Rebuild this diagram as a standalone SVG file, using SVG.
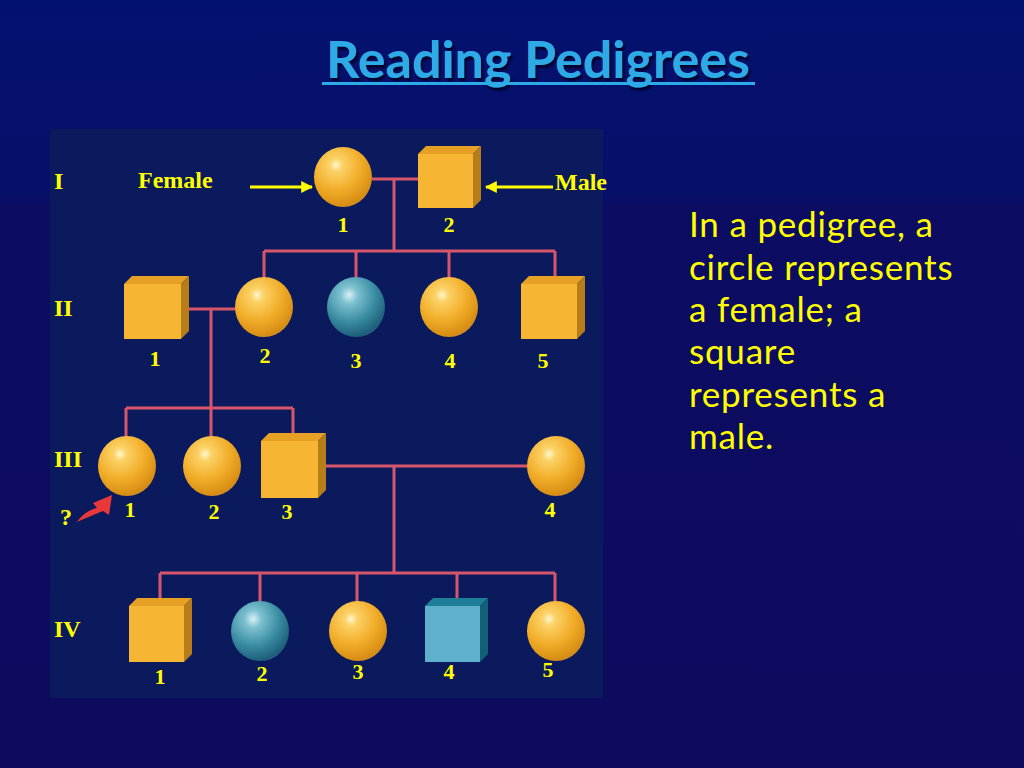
<svg xmlns="http://www.w3.org/2000/svg" width="1024" height="768" viewBox="0 0 1024 768">
<defs>
  <linearGradient id="bg" x1="0" y1="0" x2="0" y2="1">
    <stop offset="0" stop-color="#03116e"/>
    <stop offset="0.25" stop-color="#06106a"/>
    <stop offset="0.27" stop-color="#0c0c62"/>
    <stop offset="1" stop-color="#0c0b5e"/>
  </linearGradient>
  <radialGradient id="gold" cx="0.38" cy="0.3" r="0.75">
    <stop offset="0" stop-color="#fff7cf"/>
    <stop offset="0.15" stop-color="#fbd267"/>
    <stop offset="0.55" stop-color="#f2ae2a"/>
    <stop offset="0.9" stop-color="#d98f14"/>
    <stop offset="1" stop-color="#c98a2a"/>
  </radialGradient>
  <radialGradient id="teal" cx="0.38" cy="0.3" r="0.75">
    <stop offset="0" stop-color="#d8f0f4"/>
    <stop offset="0.2" stop-color="#7cc0d0"/>
    <stop offset="0.6" stop-color="#3a8ca2"/>
    <stop offset="0.95" stop-color="#1b5d78"/>
    <stop offset="1" stop-color="#5d9ab0"/>
  </radialGradient>
  <marker id="ah" viewBox="0 0 10 10" refX="9" refY="5" markerWidth="4" markerHeight="4" orient="auto" markerUnits="strokeWidth">
    <path d="M0,0 L10,5 L0,10 z" fill="#ffff00"/>
  </marker>
  <filter id="sh" x="-5%" y="-5%" width="110%" height="130%">
    <feDropShadow dx="2" dy="3" stdDeviation="1" flood-color="#000020" flood-opacity="0.9"/>
  </filter>
</defs>
<style>
  .lbl { font-family: "Liberation Serif", "Times New Roman", serif; font-weight: bold; font-size: 24px; fill: #ffff00; }
  .num { font-family: "Liberation Serif", "Times New Roman", serif; font-weight: bold; font-size: 22px; fill: #ffff00; text-anchor: middle; }
  .body { font-family: Lato, "Open Sans", sans-serif; font-size: 35px; letter-spacing: 0.8px; fill: #ffff00; }
  .line { stroke: #d7566c; stroke-width: 3; fill: none; }
  .front { fill: #f7b534; }
  .top { fill: #e6a024; }
  .side { fill: #b77d18; }
  .tfront { fill: #5fb0cc; }
  .ttop { fill: #1d7f98; }
  .tside { fill: #145f78; }
</style>

<rect x="0" y="0" width="1024" height="768" fill="url(#bg)"/>
<rect x="50" y="129" width="553" height="569" fill="#0a1a5c"/>

<g id="title">
  <text x="538" y="78" text-anchor="middle" font-family="Lato, 'Open Sans', sans-serif" font-weight="bold" font-size="52" fill="#2eaae6" filter="url(#sh)">Reading Pedigrees</text>
  <rect x="322" y="82" width="433" height="3" fill="#2eaae6"/>
</g>

<g id="connectors">
  <path class="line" d="M372,179 H418 M394,179 V251 M264,251 H555 M264,251 V278 M356,251 V278 M449,251 V278 M555,251 V279"/>
  <path class="line" d="M181,309 H236 M211,309 V408 M126,408 H293 M126,408 V437 M211,408 V437 M293,408 V441"/>
  <path class="line" d="M318,466 H527 M394,466 V573 M160,573 H555 M160,573 V606 M260,573 V602 M357,573 V602 M457,573 V606 M555,573 V602"/>
  <line x1="250" y1="187" x2="312" y2="187" stroke="#ffff00" stroke-width="3" marker-end="url(#ah)"/>
  <line x1="553" y1="187" x2="486" y2="187" stroke="#ffff00" stroke-width="3" marker-end="url(#ah)"/>
  <path d="M77,522 C84,512 92,509 97,508 L93,503 L112,495 L109,515 L103,511 C95,514 86,518 77,522 Z" fill="#e8383a"/>
</g>

<g id="generation-labels">
  <text class="lbl" x="54" y="189">I</text>
  <text class="lbl" x="54" y="316">II</text>
  <text class="lbl" x="54" y="467">III</text>
  <text class="lbl" x="54" y="637">IV</text>
  <text class="lbl" x="138" y="188">Female</text>
  <text class="lbl" x="555" y="190">Male</text>
  <text class="lbl" x="60" y="525">?</text>
</g>

<g id="I-1"><ellipse cx="343" cy="177" rx="29" ry="30" fill="url(#gold)"/><text class="num" x="343" y="232">1</text></g>
<g id="I-2">
  <polygon class="top" points="418,154 426,146 481,146 473,154"/>
  <polygon class="side" points="473,154 481,146 481,200 473,208"/>
  <rect class="front" x="418" y="154" width="55" height="54"/>
  <text class="num" x="449" y="232">2</text>
</g>

<g id="II-1">
  <polygon class="top" points="124,284 132,276 189,276 181,284"/>
  <polygon class="side" points="181,284 189,276 189,331 181,339"/>
  <rect class="front" x="124" y="284" width="57" height="55"/>
  <text class="num" x="155" y="366">1</text>
</g>
<g id="II-2"><ellipse cx="264" cy="307" rx="29" ry="30" fill="url(#gold)"/><text class="num" x="265" y="363">2</text></g>
<g id="II-3"><ellipse cx="356" cy="307" rx="29" ry="30" fill="url(#teal)"/><text class="num" x="356" y="368">3</text></g>
<g id="II-4"><ellipse cx="449" cy="307" rx="29" ry="30" fill="url(#gold)"/><text class="num" x="450" y="368">4</text></g>
<g id="II-5">
  <polygon class="top" points="521,284 529,276 585,276 577,284"/>
  <polygon class="side" points="577,284 585,276 585,331 577,339"/>
  <rect class="front" x="521" y="284" width="56" height="55"/>
  <text class="num" x="543" y="368">5</text>
</g>

<g id="III-1"><ellipse cx="127" cy="466" rx="29" ry="30" fill="url(#gold)"/><text class="num" x="130" y="517">1</text></g>
<g id="III-2"><ellipse cx="212" cy="466" rx="29" ry="30" fill="url(#gold)"/><text class="num" x="214" y="519">2</text></g>
<g id="III-3">
  <polygon class="top" points="261,441 269,433 326,433 318,441"/>
  <polygon class="side" points="318,441 326,433 326,490 318,498"/>
  <rect class="front" x="261" y="441" width="57" height="57"/>
  <text class="num" x="287" y="519">3</text>
</g>
<g id="III-4"><ellipse cx="556" cy="466" rx="29" ry="30" fill="url(#gold)"/><text class="num" x="550" y="517">4</text></g>

<g id="IV-1">
  <polygon class="top" points="129,606 137,598 192,598 184,606"/>
  <polygon class="side" points="184,606 192,598 192,654 184,662"/>
  <rect class="front" x="129" y="606" width="55" height="56"/>
  <text class="num" x="160" y="684">1</text>
</g>
<g id="IV-2"><ellipse cx="260" cy="631" rx="29" ry="30" fill="url(#teal)"/><text class="num" x="262" y="681">2</text></g>
<g id="IV-3"><ellipse cx="358" cy="631" rx="29" ry="30" fill="url(#gold)"/><text class="num" x="358" y="679">3</text></g>
<g id="IV-4">
  <polygon class="ttop" points="425,606 433,598 488,598 480,606"/>
  <polygon class="tside" points="480,606 488,598 488,654 480,662"/>
  <rect class="tfront" x="425" y="606" width="55" height="56"/>
  <text class="num" x="449" y="679">4</text>
</g>
<g id="IV-5"><ellipse cx="556" cy="631" rx="29" ry="30" fill="url(#gold)"/><text class="num" x="548" y="677">5</text></g>

<g id="description">
  <text class="body" x="689" y="237">In a pedigree, a</text>
  <text class="body" x="689" y="280">circle represents</text>
  <text class="body" x="689" y="322">a female; a</text>
  <text class="body" x="689" y="364">square</text>
  <text class="body" x="689" y="407">represents a</text>
  <text class="body" x="689" y="449">male.</text>
</g>
</svg>
